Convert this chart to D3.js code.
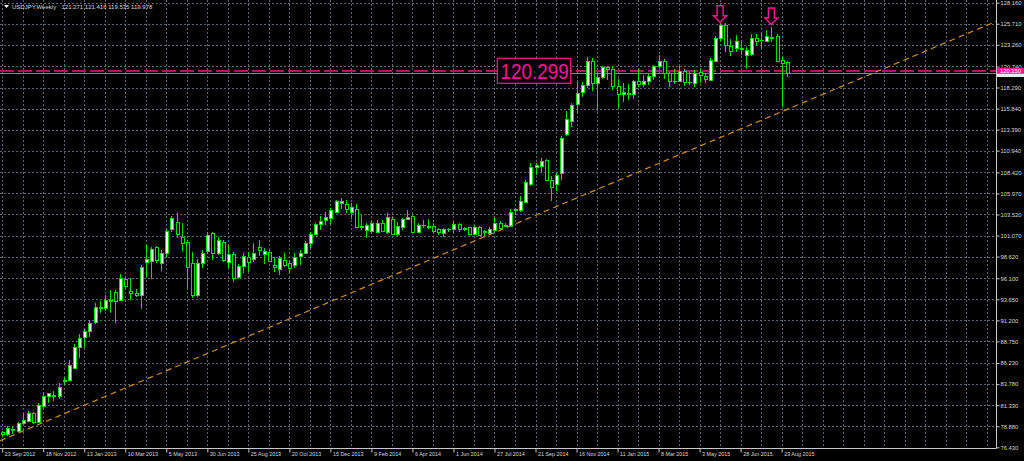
<!DOCTYPE html>
<html><head><meta charset="utf-8">
<script src="https://cdn.jsdelivr.net/npm/d3@7"></script>
<style>
html,body{margin:0;padding:0;background:#000;}
svg{display:block;}
text{font-family:"Liberation Sans",Arial,sans-serif;}
</style></head>
<body>
<svg id="chart" width="1024" height="461"></svg>
<script>
// ---------------- DATA ----------------
const symbolTitle = "USDJPY,Weekly";
const titleValues = "121.271 121.416 119.535 119.978";

const opens = [78.20,78.00,78.55,78.36,79.26,79.50,80.45,79.41,81.24,82.40,82.55,82.40,84.15,84.26,85.69,88.06,89.30,89.99,91.04,92.75,
92.60,93.45,94.50,93.57,95.97,94.60,94.40,94.15,97.95,98.14,99.77,97.90,99.07,101.80,102.68,100.94,100.35,97.84,94.15,97.91,
99.30,101.40,99.07,100.35,98.02,98.92,96.28,97.52,98.53,98.30,99.70,98.90,99.15,97.64,97.14,98.22,97.84,97.64,98.69,99.07,
100.16,101.25,102.41,102.87,103.07,103.84,104.82,104.74,103.84,104.12,102.15,101.71,101.64,101.52,102.49,101.52,102.95,101.25,102.10,102.95,
103.34,101.52,102.25,102.15,102.17,101.79,101.40,101.87,101.79,102.41,101.87,102.02,101.25,102.02,101.50,101.40,101.71,102.49,102.15,102.17,
104.04,104.04,104.98,107.05,109.10,109.16,109.80,107.53,107.06,108.40,112.88,114.43,116.40,117.80,118.60,121.40,118.80,119.50,120.70,120.40,
118.50,117.50,117.70,117.50,119.10,118.70,119.00,119.60,120.80,121.40,120.00,119.10,119.10,120.20,118.90,118.78,120.13,119.63,119.16,121.41,
124.02,125.56,123.12,122.85,122.90,122.10,122.19,124.00,123.80,123.74,124.00,124.29,121.49,121.271];
const highs = [78.35,78.90,78.90,79.35,80.42,80.65,80.55,81.55,82.85,82.78,83.00,83.90,84.65,86.60,88.40,89.60,90.16,91.20,93.20,93.40,
94.15,94.70,94.75,96.60,96.30,96.09,94.90,97.60,99.95,99.70,99.90,99.40,101.85,103.40,103.65,102.50,100.55,99.19,98.30,99.40,
101.50,101.52,100.90,100.60,99.97,99.10,97.80,99.00,99.15,100.16,100.55,99.60,99.40,98.60,98.69,99.00,98.22,99.00,99.38,100.40,
101.52,102.56,103.34,103.84,104.24,105.20,105.40,105.20,104.82,104.74,103.46,102.56,102.80,102.87,102.87,103.65,103.19,102.68,103.07,104.04,
103.46,102.49,102.87,102.95,102.49,101.91,101.91,101.91,102.68,102.56,102.10,102.10,102.29,102.17,101.71,102.10,103.19,102.80,102.56,104.12,
104.24,105.67,107.53,109.47,109.55,110.05,110.00,108.00,108.30,112.70,115.60,116.45,118.97,118.97,121.85,121.70,119.90,120.80,120.80,120.80,
119.30,118.85,118.70,119.20,120.50,119.70,119.90,120.95,122.03,121.60,120.10,120.40,120.80,120.40,120.10,120.33,120.45,120.00,121.75,124.30,
125.85,125.76,123.90,124.45,123.70,123.00,124.50,124.50,124.60,125.00,125.28,124.50,121.96,121.416];
const lows = [77.65,77.75,78.00,78.20,79.10,79.35,79.10,79.20,81.00,81.62,81.80,82.10,83.68,84.10,85.60,86.82,87.95,89.30,90.75,92.00,
92.30,92.00,90.86,93.40,94.90,93.57,93.90,92.52,96.30,96.00,97.90,96.94,98.60,101.50,100.75,99.30,94.93,93.76,93.90,97.25,
98.90,98.22,98.80,98.00,97.25,95.70,96.00,96.74,96.86,98.02,98.70,97.80,98.00,96.86,96.48,97.37,96.67,97.30,97.64,98.90,
99.58,101.10,101.71,102.29,102.29,103.65,104.10,103.65,102.95,102.02,101.71,100.75,101.52,101.52,101.52,101.30,101.13,101.02,101.71,102.87,
101.40,101.40,101.95,101.79,101.40,101.13,100.86,101.52,101.52,101.52,101.64,101.13,101.13,101.02,101.02,101.25,101.52,101.71,102.02,102.02,
103.46,103.84,104.90,106.80,108.11,108.30,107.40,105.12,106.28,107.55,112.60,113.73,115.30,117.20,118.20,117.90,115.57,119.30,119.20,118.05,
115.85,116.60,116.80,116.90,118.30,118.30,118.60,119.20,120.60,119.30,118.30,118.70,118.90,118.50,118.60,118.31,118.78,118.78,119.00,121.30,
123.70,122.46,122.00,122.40,122.10,120.40,122.00,123.10,122.85,123.60,123.60,121.30,116.06,119.535];
const closes = [77.95,78.64,78.42,79.29,79.60,80.45,79.40,81.35,82.40,82.70,82.35,83.48,84.30,86.00,88.13,89.10,89.97,90.93,92.79,92.65,
93.60,93.60,93.40,96.09,95.20,94.43,94.20,97.44,98.30,99.54,98.22,99.00,101.63,103.10,101.25,100.24,97.44,94.15,97.84,99.07,
101.13,99.07,100.55,98.22,98.92,96.09,97.52,98.69,98.02,99.07,99.38,99.30,98.10,97.37,98.49,97.64,97.33,98.60,99.07,100.16,
101.25,102.38,102.80,103.19,104.04,105.12,105.12,104.12,104.35,102.10,102.05,102.29,102.49,102.49,101.64,103.19,101.25,102.17,102.95,103.19,
101.52,102.29,102.33,102.05,101.64,101.52,101.87,101.79,102.41,101.79,101.95,101.25,102.02,101.13,101.55,101.87,102.49,101.91,102.25,103.84,
104.12,105.04,107.30,109.00,109.28,109.78,107.53,106.75,108.11,112.47,114.59,116.26,117.70,118.60,121.40,118.80,119.50,120.70,120.50,118.50,
117.50,117.75,117.50,119.10,118.70,119.00,119.60,120.80,121.40,120.00,119.10,119.05,120.20,118.90,118.95,120.01,119.75,119.28,121.49,124.09,
125.56,123.24,122.57,123.74,122.75,122.65,124.02,123.75,123.85,124.29,124.20,121.41,121.18,119.978];

const priceTicks = [128.160,125.710,123.260,120.740,118.290,115.840,113.390,110.940,108.420,105.970,
103.520,101.070,98.620,96.100,93.650,91.200,88.750,86.230,83.780,81.330,78.880,76.430];
const dateLabels = ["23 Sep 2012","18 Nov 2012","13 Jan 2013","10 Mar 2013","5 May 2013","30 Jun 2013","25 Aug 2013",
"20 Oct 2013","15 Dec 2013","9 Feb 2014","6 Apr 2014","1 Jun 2014","27 Jul 2014","21 Sep 2014","16 Nov 2014",
"11 Jan 2015","8 Mar 2015","3 May 2015","28 Jun 2015","23 Aug 2015"];
const dateLabelBars = [0,8,16,24,32,40,48,56,64,72,80,88,96,104,112,120,128,136,144,152];

const levelPrice = 120.299;      // horizontal line / text object
const levelText = "120.299";
const levelAxisText = "120.150";
const bidPrice = 119.978;
const trendBars = [0, 152];       // trend line anchor bars
const trendPrices = [77.30, 115.48];
const arrowBars = [140, 150];
const arrowTopPrices = [127.81, 127.54];

// ---------------- LAYOUT ----------------
const W = 1024, H = 461;
const plotRight = 996, plotBottom = 448;
const barStep = 5.128, firstX = 2.2;
const pink = "#ff1493", green = "#00e000", grid = "#5b6673", axisText = "#d8d8d8";

const svg = d3.select("#chart");
svg.append("rect").attr("width", W).attr("height", H).attr("fill", "#000");

const nBars = closes.length;
const x = d3.scaleLinear().domain([0, nBars - 1]).range([firstX, firstX + (nBars - 1) * barStep]);
const y = d3.scaleLinear().domain([76.43, 128.16]).range([447.3, 2.7]);
const px = v => Math.round(v) + 0.5;

const candles = closes.map((c, i) => ({i, o: opens[i], h: highs[i], l: lows[i], c}));

// grid
const gridG = svg.append("g").attr("shape-rendering", "crispEdges");
gridG.selectAll("line.h").data(priceTicks.slice(0, -1)).join("line")
  .attr("x1", 0).attr("x2", plotRight).attr("y1", d => px(y(d))).attr("y2", d => px(y(d)))
  .attr("stroke", grid).attr("stroke-dasharray", "2,2");
const lastGridBar = Math.floor(x.invert(plotRight - 1));
const vBars = d3.range(0, lastGridBar + 1, 4);
gridG.selectAll("line.v").data(vBars).join("line")
  .attr("x1", d => px(x(d))).attr("x2", d => px(x(d))).attr("y1", 0).attr("y2", plotBottom)
  .attr("stroke", grid).attr("stroke-dasharray", "2,2");

// horizontal level line and bid line
svg.append("line").attr("x1", 0).attr("x2", plotRight)
  .attr("y1", px(y(bidPrice))).attr("y2", px(y(bidPrice)))
  .attr("stroke", "#778899").attr("shape-rendering", "crispEdges");
svg.append("line").attr("x1", 0).attr("x2", plotRight)
  .attr("y1", px(y(levelPrice))).attr("y2", px(y(levelPrice)))
  .attr("stroke", "#b0126a").attr("stroke-width", 2).attr("stroke-dasharray", "14,4")
  .attr("shape-rendering", "crispEdges");

// candles
const cg = svg.append("g").attr("shape-rendering", "crispEdges");
cg.selectAll("line.wick").data(candles).join("line")
  .attr("x1", d => px(x(d.i))).attr("x2", d => px(x(d.i)))
  .attr("y1", d => Math.round(y(d.h))).attr("y2", d => Math.round(y(d.l)))
  .attr("stroke", green);
cg.selectAll("rect.body").data(candles).join("rect")
  .attr("x", d => px(x(d.i)) - 1.5)
  .attr("y", d => Math.round(y(Math.max(d.o, d.c))) + 0.5)
  .attr("width", 3)
  .attr("height", d => Math.max(0.01, Math.round(y(Math.min(d.o, d.c))) - Math.round(y(Math.max(d.o, d.c)))))
  .attr("fill", d => d.c >= d.o ? "#ffffff" : "#000000")
  .attr("stroke", green);

// trend line (ray)
const tSlope = (trendPrices[1] - trendPrices[0]) / (trendBars[1] - trendBars[0]);
const tx0 = x.invert(0), tx1 = x.invert(plotRight);
svg.append("line")
  .attr("x1", x(tx0)).attr("y1", y(trendPrices[0] + (tx0 - trendBars[0]) * tSlope))
  .attr("x2", x(tx1)).attr("y2", y(trendPrices[0] + (tx1 - trendBars[0]) * tSlope))
  .attr("stroke", "#d08a1e").attr("stroke-width", 1.2).attr("stroke-dasharray", "6,4");

// arrows
const ag = svg.append("g");
arrowBars.forEach((b, k) => {
  const cx = x(b), top = y(arrowTopPrices[k]);
  const hy = top + 10, bot = top + 16.5;
  ag.append("path")
    .attr("d", `M${cx-3},${top}L${cx+3},${top}L${cx+3},${hy}L${cx+6.5},${hy}L${cx},${bot}L${cx-6.5},${hy}L${cx-3},${hy}Z`)
    .attr("fill", "#000").attr("stroke", pink).attr("stroke-width", 1.4);
});

// text object 120.299
const boxX = x(96.55), boxY = y(121.69);
svg.append("rect").attr("x", boxX).attr("y", boxY).attr("width", 73.4).attr("height", 25)
  .attr("fill", "#000").attr("stroke", pink).attr("stroke-width", 1.2);
svg.append("text").attr("x", boxX + 3.3).attr("y", boxY + 20.5)
  .attr("fill", pink).attr("font-size", 21.5)
  .attr("textLength", 68).attr("lengthAdjust", "spacingAndGlyphs").text(levelText);

// frame
svg.append("line").attr("x1", plotRight + 0.5).attr("x2", plotRight + 0.5).attr("y1", 0).attr("y2", plotBottom + 0.5)
  .attr("stroke", "#c8c8c8");
svg.append("line").attr("x1", 0).attr("x2", plotRight + 0.5).attr("y1", plotBottom + 0.5).attr("y2", plotBottom + 0.5)
  .attr("stroke", "#c8c8c8");

// right price axis
const yAxis = d3.axisRight(y).tickValues(priceTicks).tickSize(3).tickFormat(d3.format(".3f"));
const ya = svg.append("g").attr("transform", `translate(${plotRight + 0.5},0)`).call(yAxis);
ya.select(".domain").remove();
ya.selectAll(".tick line").attr("stroke", "#c8c8c8");
ya.selectAll(".tick text").attr("x", 4).attr("fill", axisText).attr("font-size", 5.8)
  .attr("font-family", "Liberation Sans, Arial, sans-serif");

// bid label & level axis label
svg.append("rect").attr("x", plotRight + 1).attr("y", y(bidPrice) - 1).attr("width", 27).attr("height", 5)
  .attr("fill", "#e8e8e8");
svg.append("rect").attr("x", plotRight + 1).attr("y", y(levelPrice) - 2.5).attr("width", 27).attr("height", 6)
  .attr("fill", pink);
svg.append("text").attr("x", plotRight + 4).attr("y", y(levelPrice) + 2.5).attr("fill", "#fff")
  .attr("font-size", 5.8).text(levelAxisText);

// bottom time axis
const xAxis = d3.axisBottom(x).tickValues(dateLabelBars).tickSize(4)
  .tickFormat((d, i) => dateLabels[i]);
const xa = svg.append("g").attr("transform", `translate(0,${plotBottom + 0.5})`).call(xAxis);
xa.select(".domain").remove();
xa.selectAll(".tick line").attr("stroke", "#c8c8c8");
xa.selectAll(".tick text").attr("text-anchor", "start").attr("x", 2).attr("y", 4).attr("dy", "0.71em")
  .attr("fill", axisText).attr("font-size", 5.4)
  .attr("font-family", "Liberation Sans, Arial, sans-serif");

// title
svg.append("path").attr("d", "M4,5L9,5L6.5,8Z").attr("fill", "#fff");
svg.append("text").attr("x", 12).attr("y", 9).attr("fill", axisText).attr("font-size", 6)
  .text(symbolTitle);
svg.append("text").attr("x", 61.5).attr("y", 9).attr("fill", axisText).attr("font-size", 6)
  .text(titleValues);
</script>
</body></html>
